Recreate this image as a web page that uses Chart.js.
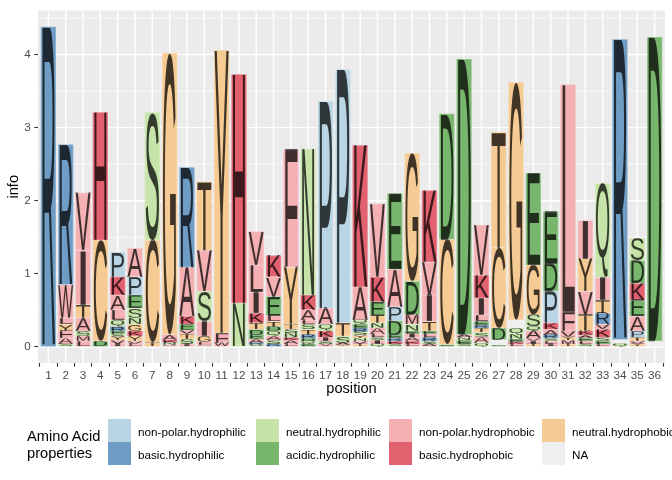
<!DOCTYPE html>
<html><head><meta charset="utf-8">
<script src="https://cdn.jsdelivr.net/npm/chart.js@4.4.1/dist/chart.umd.min.js"></script>
<style>
html,body{margin:0;padding:0;background:#fff;}
#wrap{position:relative;width:672px;height:480px;font-family:"Liberation Sans",Arial,sans-serif;overflow:hidden;}
canvas{position:absolute;left:0;top:0;}
.lgt{position:absolute;font-size:11.7px;color:#000;white-space:nowrap;line-height:23px;height:23px;}
.key{position:absolute;width:23px;height:23px;}
#lgtitle{position:absolute;left:27px;top:428px;font-size:14.67px;line-height:17px;color:#000;white-space:nowrap;}
</style></head>
<body><div id="wrap"><canvas id="c" width="672" height="480"></canvas><div id="legend"></div></div>
<script>
// ---- data ----
const positions = [1,2,3,4,5,6,7,8,9,10,11,12,13,14,15,16,17,18,19,20,21,22,23,24,25,26,27,28,29,30,31,32,33,34,35,36];
// letters of each stack, bottom to top ("-" = NA)
const stackLetters = ["R","SAFYLWR","LMSATIV","DCH","IVYSERQLAKP","LVYKGNSEPA","TCS","VNKAG","ISTVEKAR","ALGISVT",
  "WFY","NH","SRAEDTKILV","RSAQDTLEVK","LAKNSTYF","EQDRTSLAKN","VSIKQAP","YASTP","TVNYSREQAK","QISLANTEKV",
  "SKREDPAE","LKAIENMDG","ASRLETIVK","ECD","SENAD","QASTRELIKV","E-DCT","LKENQ-G","TIVAQSGE","ILSRAKPDE",
  "TMYVFL","SLEAKTVYI","LESKVRTIQ","Q-R","YVTPAEKDS","-D"];
// information (bits) of each letter, bottom to top
const stackHeights = [
  [4.38],
  [0.04,0.08,0.10,0.09,0.09,0.45,1.92],
  [0.08,0.07,0.07,0.18,0.18,0.74,0.79],
  [0.08,1.38,1.75],
  [0.04,0.05,0.05,0.04,0.04,0.06,0.09,0.14,0.20,0.25,0.34],
  [0.04,0.04,0.07,0.07,0.09,0.09,0.13,0.18,0.25,0.39],
  [0.06,1.40,1.75],
  [0.03,0.03,0.04,0.07,3.85],
  [0.04,0.07,0.07,0.05,0.08,0.11,0.67,1.37],
  [0.03,0.04,0.08,0.20,0.41,0.56,0.94],
  [0.06,0.13,3.87],
  [0.60,3.13],
  [0.03,0.03,0.05,0.06,0.07,0.09,0.13,0.29,0.37,0.46],
  [0.04,0.05,0.06,0.07,0.06,0.07,0.08,0.26,0.27,0.29],
  [0.04,0.05,0.04,0.06,0.05,0.07,0.78,1.61],
  [0.04,0.04,0.04,0.05,0.07,0.07,0.06,0.14,0.20,2.00],
  [0.04,0.04,0.05,0.09,0.09,0.22,2.83],
  [0.03,0.03,0.09,0.18,3.47],
  [0.04,0.04,0.04,0.04,0.05,0.05,0.05,0.06,0.45,1.94],
  [0.04,0.05,0.04,0.05,0.08,0.07,0.10,0.19,0.34,1.00],
  [0.04,0.04,0.04,0.05,0.19,0.19,0.51,1.04],
  [0.04,0.04,0.05,0.05,0.04,0.09,0.13,0.46,1.75],
  [0.04,0.04,0.05,0.05,0.04,0.13,0.36,0.45,0.98],
  [0.03,1.44,1.72],
  [0.04,0.05,0.04,0.04,3.77],
  [0.06,0.08,0.06,0.06,0.04,0.05,0.09,0.23,0.31,0.69],
  [0.02,0.08,0.16,1.10,1.58],
  [0.04,0.03,0.04,0.07,0.08,0.11,3.25],
  [0.04,0.04,0.04,0.10,0.06,0.16,0.68,1.26],
  [0.04,0.04,0.04,0.05,0.07,0.09,0.43,0.38,0.71],
  [0.04,0.05,0.05,0.08,0.26,3.11],
  [0.04,0.04,0.04,0.04,0.06,0.22,0.32,0.45,0.52],
  [0.04,0.04,0.05,0.11,0.07,0.15,0.18,0.31,1.29],
  [0.05,0.05,4.11],
  [0.04,0.04,0.05,0.09,0.20,0.22,0.23,0.31,0.31],
  [0.08,4.16]
];
const yTicks = [0,1,2,3,4];
const propertyNames = ["non-polar.hydrophilic","basic.hydrophilic","neutral.hydrophilic","acidic.hydrophilic",
  "non-polar.hydrophobic","basic.hydrophobic","neutral.hydrophobic","NA"];
const propertyColors = ["#b9d5e4","#6f9cc4","#c6e4a9","#78b66e","#f4b0b3","#e2616f","#f6ca93","#efefef"];
const letterProperty = {P:0,R:1,S:2,N:2,Q:2,D:3,E:3,A:4,V:4,L:4,I:4,F:4,W:4,M:4,K:5,H:5,C:6,G:6,T:6,Y:6,"-":7};

const FONT = '"Liberation Sans", Arial, sans-serif';
function colorOf(ch){ const k = letterProperty[ch]; return propertyColors[k===undefined?7:k]; }

// ---- datasets: one per stack layer ----
const depth = Math.max(...stackLetters.map(s => s.length));
const datasets = [];
for (let k = 0; k < depth; k++) {
  datasets.push({
    label: 'layer ' + (k+1),
    data: positions.map((p, i) => ({x: p, y: k < stackHeights[i].length ? stackHeights[i][k] : null})),
    letters: positions.map((p, i) => stackLetters[i][k] || null),
    backgroundColor: positions.map((p, i) => colorOf(stackLetters[i][k] || '-')),
    borderWidth: 0,
    barPercentage: 0.88,
    categoryPercentage: 1.0
  });
}

// ---- plugins ----
const panelPlugin = {
  id: 'panel',
  beforeDatasetsDraw(chart) {
    const {ctx, chartArea: a, scales: {x, y}} = chart;
    ctx.save();
    ctx.fillStyle = '#ebebeb';
    ctx.fillRect(a.left, a.top, a.right - a.left, a.bottom - a.top);
    ctx.strokeStyle = '#ffffff';
    ctx.lineWidth = 0.7;
    [0.5,1.5,2.5,3.5,4.5].forEach(v => {
      const py = y.getPixelForValue(v);
      if (py < a.top || py > a.bottom) return;
      ctx.beginPath(); ctx.moveTo(a.left, py); ctx.lineTo(a.right, py); ctx.stroke();
    });
    ctx.lineWidth = 1.4;
    yTicks.forEach(v => {
      const py = y.getPixelForValue(v);
      ctx.beginPath(); ctx.moveTo(a.left, py); ctx.lineTo(a.right, py); ctx.stroke();
    });
    positions.forEach(v => {
      const px = x.getPixelForValue(v);
      ctx.beginPath(); ctx.moveTo(px, a.top); ctx.lineTo(px, a.bottom); ctx.stroke();
    });
    ctx.restore();
  }
};

const metricsCache = {};
function glyphMetrics(ctx, ch) {
  if (metricsCache[ch]) return metricsCache[ch];
  ctx.save();
  ctx.font = '200px ' + FONT;
  ctx.textAlign = 'left'; ctx.textBaseline = 'alphabetic';
  const m = ctx.measureText(ch);
  ctx.restore();
  const r = {adv: m.width, a: m.actualBoundingBoxAscent, d: m.actualBoundingBoxDescent};
  metricsCache[ch] = r;
  return r;
}

const glyphPlugin = {
  id: 'glyphs',
  afterDatasetsDraw(chart) {
    const ctx = chart.ctx;
    chart.data.datasets.forEach((ds, di) => {
      const meta = chart.getDatasetMeta(di);
      meta.data.forEach((el, j) => {
        const ch = ds.letters[j];
        if (!ch || ds.data[j].y == null) return;
        const p = el.getProps(['x', 'y', 'base', 'width'], true);
        const x0 = p.x - p.width / 2, w = p.width;
        const y0 = Math.min(p.y, p.base), h = Math.abs(p.base - p.y);
        if (h < 0.3) return;
        if (ch !== '-') {
          const g = glyphMetrics(ctx, ch);
          const gh = g.a + g.d;
          ctx.save();
          ctx.translate(x0, y0);
          ctx.scale(w / g.adv, h / gh);
          ctx.font = '200px ' + FONT;
          ctx.textAlign = 'left'; ctx.textBaseline = 'alphabetic';
          ctx.fillStyle = 'rgba(0,0,0,0.74)';
          ctx.fillText(ch, 0, g.a);
          ctx.restore();
        }
        ctx.save();
        ctx.strokeStyle = 'rgba(255,255,255,0.3)';
        ctx.lineWidth = 0.7;
        ctx.strokeRect(x0 + 0.35, y0 + 0.35, w - 0.7, h - 0.7);
        ctx.restore();
      });
    });
  }
};

const titlesPlugin = {
  id: 'titles',
  afterDraw(chart) {
    const {ctx, chartArea: a} = chart;
    ctx.save();
    ctx.fillStyle = '#000';
    ctx.font = '14.67px ' + FONT;
    ctx.textAlign = 'center'; ctx.textBaseline = 'middle';
    ctx.fillText('position', (a.left + a.right) / 2, 389);
    ctx.translate(14, (a.top + a.bottom) / 2);
    ctx.rotate(-Math.PI / 2);
    ctx.fillText('info', 0, 0);
    ctx.restore();
  }
};

new Chart(document.getElementById('c'), {
  type: 'bar',
  data: {datasets},
  options: {
    responsive: false,
    animation: false,
    events: [],
    layout: {padding: {top: 7, right: 7, left: 0, bottom: 0}},
    plugins: {legend: {display: false}, tooltip: {enabled: false}},
    scales: {
      x: {
        type: 'linear', min: 0.4, max: 36.6, offset: false, stacked: true,
        afterBuildTicks: s => { s.ticks = positions.map(v => ({value: v})); },
        afterFit: s => { s.height = 117; },
        ticks: {autoSkip: false, maxRotation: 0, color: '#4d4d4d', padding: 2, font: {size: 11.7, family: FONT}},
        grid: {drawOnChartArea: false, drawTicks: true, tickLength: 3.7, tickColor: '#333333', tickWidth: 1.1},
        border: {display: false}
      },
      y: {
        type: 'linear', min: -0.219, max: 4.602, stacked: true,
        afterBuildTicks: s => { s.ticks = yTicks.map(v => ({value: v})); },
        afterFit: s => { s.width = 38; },
        ticks: {color: '#4d4d4d', padding: 3.5, font: {size: 11.7, family: FONT}},
        grid: {drawOnChartArea: false, drawTicks: true, tickLength: 3.7, tickColor: '#333333', tickWidth: 1.1},
        border: {display: false}
      }
    }
  },
  plugins: [panelPlugin, glyphPlugin, titlesPlugin]
});

// ---- legend (HTML) ----
const legend = document.getElementById('legend');
const title = document.createElement('div');
title.id = 'lgtitle';
title.innerHTML = 'Amino Acid<br>properties';
legend.appendChild(title);
const keyX = [108, 256, 389, 542];
const rowY = [419, 442];
propertyNames.forEach((name, i) => {
  const col = Math.floor(i / 2), row = i % 2;
  const k = document.createElement('div');
  k.className = 'key';
  k.style.left = keyX[col] + 'px'; k.style.top = rowY[row] + 'px';
  k.style.background = propertyColors[i];
  legend.appendChild(k);
  const t = document.createElement('div');
  t.className = 'lgt';
  t.style.left = (keyX[col] + 30) + 'px'; t.style.top = (rowY[row] + 1) + 'px';
  t.textContent = name;
  legend.appendChild(t);
});
</script>
</body></html>
